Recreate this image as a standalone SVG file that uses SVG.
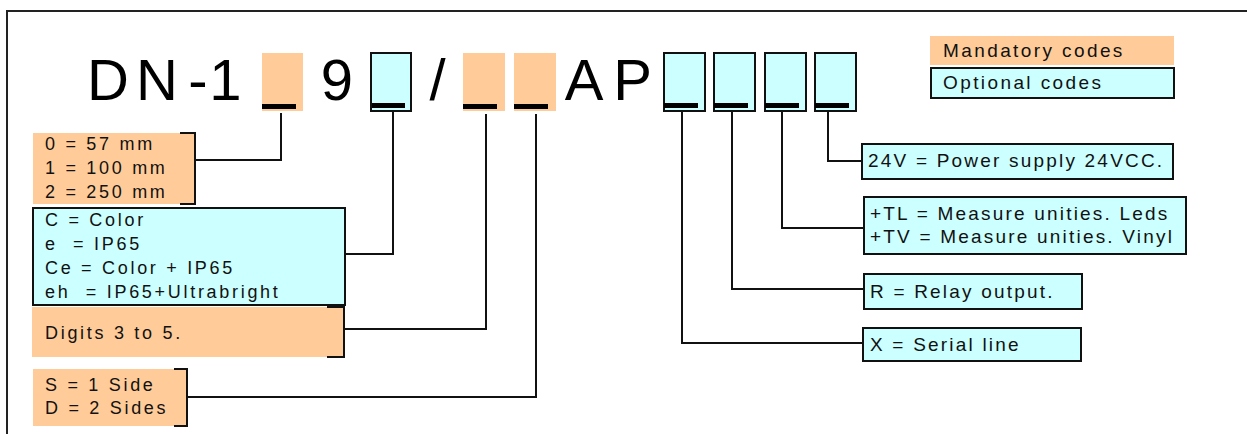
<svg xmlns="http://www.w3.org/2000/svg" width="1247" height="434" viewBox="0 0 1247 434">
<style>
.bg{fill:#ffffff}
.frame{fill:none;stroke:#222;stroke-width:2}
.man{fill:#FFCC99;stroke:none}
.opt{fill:#CCFFFF;stroke:#111;stroke-width:2}
.bar{fill:#000}
.br{fill:none;stroke:#111;stroke-width:2}
.con{fill:none;stroke:#111;stroke-width:2}
.title{font-family:"Liberation Sans",Arial,sans-serif;font-size:58px;fill:#000;text-anchor:middle}
.t{font-family:"Liberation Sans",Arial,sans-serif;font-size:18px;letter-spacing:2.7px;fill:#111;white-space:pre}
.tr{font-family:"Liberation Sans",Arial,sans-serif;font-size:19px;letter-spacing:2.2px;fill:#111;white-space:pre}
.tl{font-family:"Liberation Sans",Arial,sans-serif;font-size:19px;letter-spacing:2.4px;fill:#111;white-space:pre}
</style>
<rect class="bg" x="0" y="0" width="1247" height="434"/>
<path class="frame" d="M7,434 V11 H1247"/>

<g id="title">
  <text class="title" x="108" y="100">D</text>
  <text class="title" x="157" y="100">N</text>
  <text class="title" x="198" y="100">-</text>
  <text class="title" x="225.5" y="100">1</text>
  <text class="title" x="337" y="100">9</text>
  <text class="title" x="437.5" y="100">/</text>
  <text class="title" x="584" y="100">A</text>
  <text class="title" x="632.5" y="100">P</text>
</g>
<g id="slot1"><rect class="man" x="262" y="53" width="41" height="58"/><rect class="bar" x="262" y="104" width="34" height="5"/></g>
<g id="slot2"><rect class="opt" x="371" y="53" width="40" height="58"/><rect class="bar" x="372" y="103" width="33" height="5"/></g>
<g id="slot3"><rect class="man" x="463" y="53" width="42" height="58"/><rect class="bar" x="463" y="104" width="34" height="5"/></g>
<g id="slot4"><rect class="man" x="514" y="53" width="42" height="58"/><rect class="bar" x="514" y="104" width="34" height="5"/></g>
<g id="slot5"><rect class="opt" x="664" y="53" width="41" height="58"/><rect class="bar" x="664" y="103" width="34" height="5"/></g>
<g id="slot6"><rect class="opt" x="714" y="53" width="41" height="58"/><rect class="bar" x="714" y="103" width="34" height="5"/></g>
<g id="slot7"><rect class="opt" x="765" y="53" width="41" height="58"/><rect class="bar" x="765" y="103" width="34" height="5"/></g>
<g id="slot8"><rect class="opt" x="815" y="53" width="41" height="58"/><rect class="bar" x="815" y="103" width="34" height="5"/></g>

<g id="legend-mandatory"><rect class="man" x="930" y="36" width="244" height="29"/><text class="tl" x="943" y="57">Mandatory codes</text></g>
<g id="legend-optional"><rect class="opt" x="931" y="68" width="243" height="30"/><text class="tl" x="943" y="89">Optional codes</text></g>

<g id="connectors">
  <path class="con" d="M281,113 V160 H195"/>
  <path class="con" d="M393,112 V254 H345"/>
  <path class="con" d="M486,114 V329 H345"/>
  <path class="con" d="M536,114 V397 H187"/>
  <path class="con" d="M682,112 V343 H863"/>
  <path class="con" d="M732,112 V289 H864"/>
  <path class="con" d="M782,112 V228 H864"/>
  <path class="con" d="M828,112 V161 H862"/>
</g>

<g id="size">
  <rect class="man" x="33" y="133" width="161" height="71"/>
  <path class="br" d="M180,133 H195 V204 H180"/>
  <text class="t" x="45" y="150">0 = 57 mm</text>
  <text class="t" x="45" y="174">1 = 100 mm</text>
  <text class="t" x="45" y="198">2 = 250 mm</text>
</g>
<g id="options">
  <rect class="opt" x="33" y="208" width="312" height="97"/>
  <text class="t" x="45" y="226">C = Color</text>
  <text class="t" x="45" y="250">e  = IP65</text>
  <text class="t" x="45" y="274">Ce = Color + IP65</text>
  <text class="t" x="45" y="298">eh  = IP65+Ultrabright</text>
</g>
<g id="digits">
  <rect class="man" x="32" y="307" width="312" height="50"/>
  <path class="br" d="M327,307 H344 V357 H327"/>
  <text class="t" x="45" y="339">Digits 3 to 5.</text>
</g>
<g id="sides">
  <rect class="man" x="33" y="369" width="154" height="57"/>
  <path class="br" d="M174,369 H187 V426 H174"/>
  <text class="t" x="45" y="391">S = 1 Side</text>
  <text class="t" x="45" y="414">D = 2 Sides</text>
</g>

<g id="power">
  <rect class="opt" x="862" y="144" width="311" height="35"/>
  <text class="tr" x="868" y="167">24V = Power supply 24VCC.</text>
</g>
<g id="measure">
  <rect class="opt" x="864" y="197" width="322" height="57"/>
  <text class="tr" x="870" y="220">+TL = Measure unities. Leds</text>
  <text class="tr" x="870" y="243">+TV = Measure unities. Vinyl</text>
</g>
<g id="relay">
  <rect class="opt" x="864" y="274" width="218" height="35"/>
  <text class="tr" x="870" y="298">R = Relay output.</text>
</g>
<g id="serial">
  <rect class="opt" x="863" y="328" width="218" height="33"/>
  <text class="tr" x="870" y="351">X = Serial line</text>
</g>
</svg>
